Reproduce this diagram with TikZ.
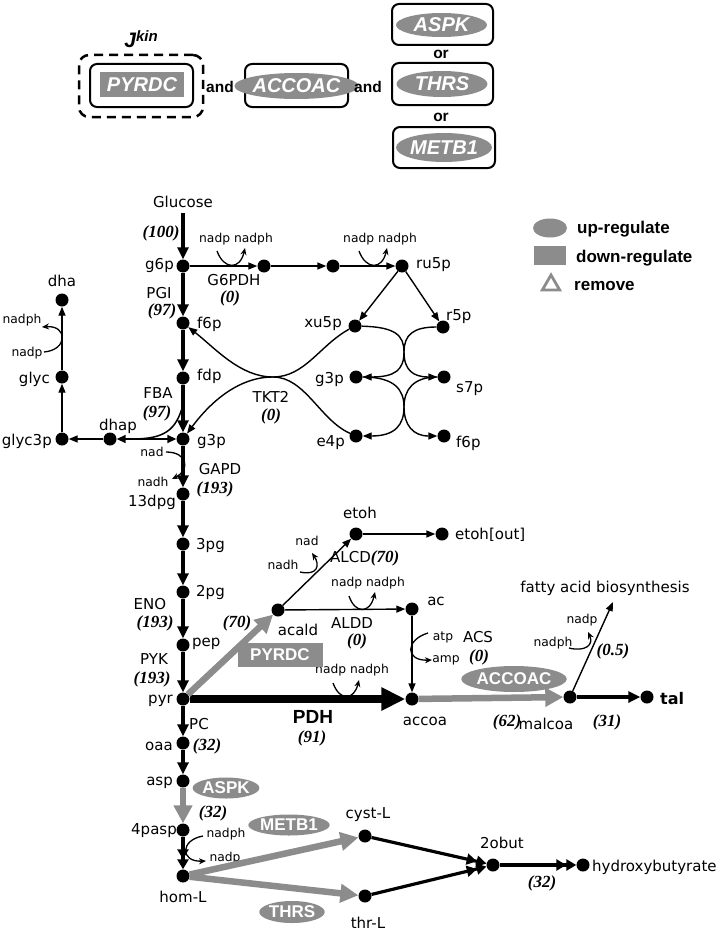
\documentclass[tikz,border=0pt]{standalone}
\usepackage{fontspec}
\setmainfont{DejaVu Sans}
\newfontfamily\arialf{Liberation Sans}
\newfontfamily\timesf{Liberation Serif}
\usetikzlibrary{arrows.meta,shapes.geometric}
\definecolor{gry}{RGB}{140,140,140}
\begin{document}
\begin{tikzpicture}[x=1pt,y=-1pt,
 met/.style={circle,fill=black,inner sep=0pt,minimum size=13pt},
 lab/.style={font=\fontsize{15}{16}\selectfont,inner sep=0pt},
 sm/.style={font=\fontsize{12.3}{13}\selectfont,inner sep=0pt},
 flux/.style={font=\timesf\bfseries\itshape\fontsize{17}{19}\selectfont,inner sep=0pt},
 mainarr/.style={line width=3.2pt,-{Triangle[length=12pt,width=11pt]}},
 dblarr/.style={line width=3.2pt,-{Triangle[length=10pt,width=11pt]Triangle[length=10pt,width=11pt]}},
 thinarr/.style={line width=1.4pt,-{Triangle[length=9pt,width=7pt]}},
 curlarr/.style={line width=1.3pt,-{Stealth[length=7pt,width=6pt]}},
 garr/.style={line width=6.5pt,draw=gry,-{Triangle[length=18pt,width=18pt]}},
 genz/.style={ellipse,fill=gry,text=white,inner sep=0pt,font=\arialf\bfseries\fontsize{17}{18}\selectfont},
 genr/.style={rectangle,fill=gry,text=white,inner sep=0pt,font=\arialf\bfseries\fontsize{17}{18}\selectfont},
 topbox/.style={draw,line width=2pt,rounded corners=7pt,inner sep=0pt},
 topz/.style={ellipse,fill=gry,text=white,inner sep=0pt,font=\arialf\bfseries\itshape\fontsize{20}{21}\selectfont},
 topr/.style={rectangle,fill=gry,text=white,inner sep=0pt,font=\arialf\bfseries\itshape\fontsize{20}{21}\selectfont},
 conj/.style={font=\arialf\bfseries\fontsize{15.5}{16}\selectfont,inner sep=0pt},
 legt/.style={font=\arialf\bfseries\fontsize{17}{18}\selectfont,inner sep=0pt,anchor=west}
]
\useasboundingbox (0,0) rectangle (719,934);
\fill[white] (0,0) rectangle (719,934);

% ---------- top panel ----------
\node[conj,font=\arialf\bfseries\itshape\fontsize{21}{22}\selectfont] (jkin) at (141,39) {J\raisebox{0.55ex}{\fontsize{15}{15}\selectfont kin}};
\node[draw,line width=2.5pt,dash pattern=on 9pt off 6pt,rounded corners=10pt,minimum width=124pt,minimum height=62pt] (jbox) at (141,86) {};
\node[topbox,minimum width=103pt,minimum height=43pt] (b1) at (141.5,85.5) {};
\node[topr,minimum width=84pt,minimum height=25pt] (t1) at (142,84.5) {PYRDC};
\node[conj] (and1) at (220,87) {and};
\node[topbox,minimum width=103pt,minimum height=43pt] (b2) at (296.5,85.5) {};
\node[topz,minimum width=93pt,minimum height=26pt] (t2) at (296.5,86) {ACCOAC};
\node[conj] (and2) at (368,87) {and};
\node[topbox,minimum width=101pt,minimum height=41pt] (b3) at (442.5,24.5) {};
\node[topz,minimum width=91pt,minimum height=24pt] (t3) at (441.5,25) {ASPK};
\node[conj] (or1) at (441,54) {or};
\node[topbox,minimum width=101pt,minimum height=42pt] (b4) at (442.5,84) {};
\node[topz,minimum width=91pt,minimum height=26pt] (t4) at (442,84) {THRS};
\node[conj] (or2) at (441,117) {or};
\node[topbox,minimum width=102pt,minimum height=41pt] (b5) at (444,147.5) {};
\node[topz,minimum width=91pt,minimum height=29pt] (t5) at (444,147.5) {METB1};

% ---------- legend ----------
\node[ellipse,fill=gry,minimum width=34pt,minimum height=19pt,inner sep=0pt] (lg1) at (550,228) {};
\node[legt] (lt1) at (577,229) {up-regulate};
\node[rectangle,fill=gry,minimum width=32pt,minimum height=19pt,inner sep=0pt] (lg2) at (550,255) {};
\node[legt] (lt2) at (576,258) {down-regulate};
\node[regular polygon,regular polygon sides=3,draw=gry,line width=2.8pt,minimum size=20pt,inner sep=0pt] (lg3) at (551,285) {};
\node[legt] (lt3) at (574,286) {remove};

% ---------- metabolites ----------
\node[lab] (glc) at (183,202) {Glucose};
\coordinate (glcs) at (183,213);
\node[met] (g6p) at (183,266) {};
\node[met] (f6p) at (183,323) {};
\node[met] (fdp) at (183,378) {};
\node[met] (g3p) at (183,439) {};
\node[met] (dpg) at (183,494) {};
\node[met] (pga) at (183,544) {};
\node[met] (pgb) at (183,592) {};
\node[met] (pep) at (183,645) {};
\node[met] (pyr) at (183,699) {};
\node[met] (oaa) at (183,743) {};
\node[met] (asp) at (183,781) {};
\node[met] (pasp) at (183,830) {};
\node[met] (homl) at (183,876) {};
\node[met] (na) at (264,266) {};
\node[met] (nb) at (333,266) {};
\node[met] (ru5p) at (402,266) {};
\node[met] (xu5p) at (355,326) {};
\node[met] (r5p) at (443,327) {};
\node[met] (g3pr) at (356,377) {};
\node[met] (s7p) at (444,377) {};
\node[met] (e4p) at (356,436) {};
\node[met] (f6pr) at (444,436) {};
\node[met] (dhap) at (110,439) {};
\node[met] (glyc3p) at (62,439) {};
\node[met] (glyc) at (62,377) {};
\node[met] (dha) at (62,300) {};
\node[met] (etoh) at (356,534) {};
\node[met] (etohout) at (442,534) {};
\node[met] (acald) at (278,610) {};
\node[met] (ac) at (412,609) {};
\node[met] (accoa) at (412,699) {};
\node[met] (malcoa) at (570,697) {};
\node[met] (tal) at (647,697) {};
\node[met] (cystl) at (365,836) {};
\node[met] (thrl) at (365,896) {};
\node[met] (obut) at (493,865) {};
\node[met] (hyd) at (583,865) {};
\coordinate (faend) at (613,602);

% metabolite labels
\node[lab,anchor=east] (lg6p) at (174,265) {g6p};
\node[lab,anchor=west] (lf6p) at (197,324) {f6p};
\node[lab,anchor=west] (lfdp) at (197,376) {fdp};
\node[lab,anchor=west] (lg3p) at (197,441) {g3p};
\node[lab,anchor=east] (ldpg) at (176,502) {13dpg};
\node[lab,anchor=west] (lpga) at (196,545) {3pg};
\node[lab,anchor=west] (lpgb) at (196,592) {2pg};
\node[lab,anchor=west] (lpep) at (192,644) {pep};
\node[lab,anchor=east] (lpyr) at (173,701) {pyr};
\node[lab,anchor=east] (loaa) at (173,746) {oaa};
\node[lab,anchor=east] (lasp) at (173,783) {asp};
\node[lab,anchor=east] (lpasp) at (177,831) {4pasp};
\node[lab] (lhoml) at (183,897) {hom-L};
\node[lab,anchor=west] (lru5p) at (416,265) {ru5p};
\node[lab,anchor=east] (lxu5p) at (342,324) {xu5p};
\node[lab,anchor=west] (lr5p) at (446,317) {r5p};
\node[lab,anchor=east] (lg3pr) at (344,379) {g3p};
\node[lab,anchor=west] (ls7p) at (456,389) {s7p};
\node[lab,anchor=east] (le4p) at (345,443) {e4p};
\node[lab,anchor=west] (lf6pr) at (456,443) {f6p};
\node[lab] (ldhap) at (118,426) {dhap};
\node[lab,anchor=east] (lglyc3p) at (52,441) {glyc3p};
\node[lab,anchor=east] (lglyc) at (50,379) {glyc};
\node[lab] (ldha) at (62,281) {dha};
\node[lab] (letoh) at (360,513) {etoh};
\node[lab,anchor=west] (letohout) at (455,535) {etoh[out]};
\node[lab] (lacald) at (298,630) {acald};
\node[lab] (lac) at (436,601) {ac};
\node[lab] (laccoa) at (425,721) {accoa};
\node[lab] (lmalcoa) at (546,724) {malcoa};
\node[lab,anchor=west,font=\bfseries\fontsize{16}{17}\selectfont] (ltal) at (660,699) {tal};
\node[lab] (lfa) at (605,588) {fatty acid biosynthesis};
\node[lab] (lcystl) at (368,815) {cyst-L};
\node[lab] (lthrl) at (368,923) {thr-L};
\node[lab] (lobut) at (502,843) {2obut};
\node[lab,anchor=west] (lhyd) at (592,867) {hydroxybutyrate};

% enzyme / flux labels
\node[flux] (f100) at (161,233) {(100)};
\node[lab] (epgi) at (159,293) {PGI};
\node[flux] (f97a) at (162,311) {(97)};
\node[lab] (eg6pdh) at (234,280) {G6PDH};
\node[flux] (f0a) at (230,298) {(0)};
\node[lab] (efba) at (158,393) {FBA};
\node[flux] (f97b) at (157,413) {(97)};
\node[lab] (etkt) at (271,397) {TKT2};
\node[flux] (f0b) at (271,416) {(0)};
\node[lab] (egapd) at (220,469) {GAPD};
\node[flux] (f193a) at (215,489) {(193)};
\node[lab] (eeno) at (150,604) {ENO};
\node[flux] (f193b) at (155,623) {(193)};
\node[lab] (epyk) at (154,659) {PYK};
\node[flux] (f193c) at (152,679) {(193)};
\node[lab] (epc) at (199,724) {PC};
\node[flux] (f32a) at (207,746) {(32)};
\node[font=\arialf\bfseries\fontsize{19}{20}\selectfont,inner sep=0pt] (epdh) at (313,717) {PDH};
\node[flux] (f91) at (312,738) {(91)};
\node[inner sep=0pt,anchor=west] (ealcd) at (330,558) {{\fontsize{15}{16}\selectfont ALCD}{\timesf\bfseries\itshape\fontsize{17}{19}\selectfont(70)}};
\node[lab] (ealdd) at (352,623) {ALDD};
\node[flux] (f0c) at (357,641) {(0)};
\node[flux] (f70) at (237,623) {(70)};
\node[lab] (eacs) at (478,637) {ACS};
\node[flux] (f0d) at (479,657) {(0)};
\node[flux] (f62) at (507,722) {(62)};
\node[flux] (f31) at (607,722) {(31)};
\node[flux] (f05) at (613,651) {(0.5)};
\node[flux] (f32b) at (213,813) {(32)};
\node[flux] (f32c) at (542,883) {(32)};

% cofactor labels
\node[sm] (c1) at (236,239) {nadp nadph};
\node[sm] (c2) at (380,239) {nadp nadph};
\node[sm] (c3) at (152,452) {nad};
\node[sm] (c4) at (153,482) {nadh};
\node[sm] (c5) at (307,541) {nad};
\node[sm] (c6) at (283,565) {nadh};
\node[sm] (c7) at (368,583) {nadp nadph};
\node[sm] (c8) at (352,670) {nadp nadph};
\node[sm] (c9) at (443,637) {atp};
\node[sm] (c10) at (446,660) {amp};
\node[sm] (c11) at (582,620) {nadp};
\node[sm] (c12) at (553,643) {nadph};
\node[sm] (c13) at (226,834) {nadph};
\node[sm] (c14) at (225,858) {nadp};
\node[sm] (c15) at (22,320) {nadph};
\node[sm] (c16) at (27,353) {nadp};

% ---------- reactions ----------
\draw[mainarr] (glcs) -- (g6p);
\draw[mainarr] (g6p) -- (f6p);
\draw[mainarr] (f6p) -- (fdp);
\draw[mainarr] (fdp) -- (g3p);
\draw[mainarr] (g3p) -- (dpg);
\draw[mainarr] (dpg) -- (pga);
\draw[mainarr] (pga) -- (pgb);
\draw[mainarr] (pgb) -- (pep);
\draw[mainarr] (pep) -- (pyr);
\draw[mainarr] (pyr) -- (oaa);
\draw[mainarr] (oaa) -- (asp);
\draw[dblarr] (pasp) -- (homl);
\draw[dblarr] (cystl) -- (obut);
\draw[dblarr] (thrl) -- (obut);
\draw[dblarr] (obut) -- (hyd);
\draw[mainarr] (malcoa) -- (tal);

\draw[thinarr] (g6p) -- (na);
\draw[thinarr] (na) -- (nb);
\draw[thinarr] (nb) -- (ru5p);
\draw[thinarr] (ru5p) -- (xu5p);
\draw[thinarr] (ru5p) -- (r5p);

% TKT2 crossing
\coordinate (kx) at (273,377);
\draw[thinarr] (xu5p) .. controls (320,345) and (305,377) .. (kx) .. controls (240,377) and (212,400) .. (g3p);
\draw[thinarr] (e4p) .. controls (320,420) and (305,377) .. (kx) .. controls (240,377) and (215,348) .. (f6p);
% right transketolase/transaldolase kisses
\draw[thinarr] (xu5p) .. controls (395,327) and (404,335) .. (404,352) .. controls (404,370) and (395,377) .. (g3pr);
\draw[thinarr] (r5p) .. controls (413,327) and (404,335) .. (404,352) .. controls (404,370) and (413,377) .. (s7p);
\draw[thinarr] (g3pr) .. controls (395,377) and (404,390) .. (404,407) .. controls (404,425) and (413,436) .. (f6pr);
\draw[thinarr] (s7p) .. controls (413,377) and (404,390) .. (404,407) .. controls (404,425) and (395,436) .. (e4p);

% dhap branch
\draw[line width=1.6pt,{Triangle[length=9pt,width=8pt]}-{Triangle[length=9pt,width=8pt]}] (dhap) -- (g3p);
\coordinate (fbas) at (183,405);
\coordinate (fbae) at (132,439);
\draw[line width=1.5pt] (fbas) .. controls (176,430) and (165,439) .. (fbae);
\draw[thinarr] (dhap) -- (glyc3p);
\draw[thinarr] (glyc3p) -- (glyc);
\draw[thinarr] (glyc) -- (dha);

% ethanol / acetate
\draw[thinarr] (acald) -- (etoh);
\draw[thinarr] (etoh) -- (etohout);
\draw[thinarr] (acald) -- (ac);
\draw[thinarr] (ac) -- (accoa);
\draw[thinarr] (malcoa) -- (faend);

% big arrows
\draw[line width=8pt,-{Triangle[length=24pt,width=22pt]}] (pyr) -- (accoa);
\draw[garr] (pyr) -- (acald);
\draw[garr] (accoa) -- (malcoa);
\draw[garr] (asp) -- (pasp);
\draw[garr] (homl) -- (cystl);
\draw[garr] (homl) -- (thrl);

% enzyme tags
\node[genr,minimum width=85pt,minimum height=24pt] (ePYRDC) at (280,655) {PYRDC};
\node[genz,minimum width=92pt,minimum height=26pt] (eACCOAC) at (514,679) {ACCOAC};
\node[genz,minimum width=66pt,minimum height=21pt] (eASPK) at (226,788) {ASPK};
\node[genz,minimum width=73pt,minimum height=21pt] (eMETB1) at (289,825) {METB1};
\node[genz,minimum width=64pt,minimum height=22pt] (eTHRS) at (292,912) {THRS};

% cofactor curls
\draw[curlarr] (217,251) .. controls (224,270) and (240,270) .. (245,248);
\draw[curlarr] (359,251) .. controls (366,270) and (382,270) .. (387,248);
\draw[curlarr] (333,683) .. controls (340,702) and (354,700) .. (359,680);
\draw[curlarr] (349,596) .. controls (355,614) and (370,614) .. (375,592);
\draw[curlarr] (166,452) .. controls (188,452) and (190,470) .. (172,479);
\draw[curlarr] (300,572) .. controls (318,576) and (320,565) .. (312,553);
\draw[curlarr] (428,633) .. controls (405,640) and (405,661) .. (432,660);
\draw[curlarr] (569,648) .. controls (585,652) and (594,645) .. (588,632);
\draw[curlarr] (203,836) .. controls (180,840) and (180,862) .. (206,861);
\draw[curlarr] (44,352) .. controls (68,350) and (68,325) .. (42,327);
\end{tikzpicture}
\end{document}
